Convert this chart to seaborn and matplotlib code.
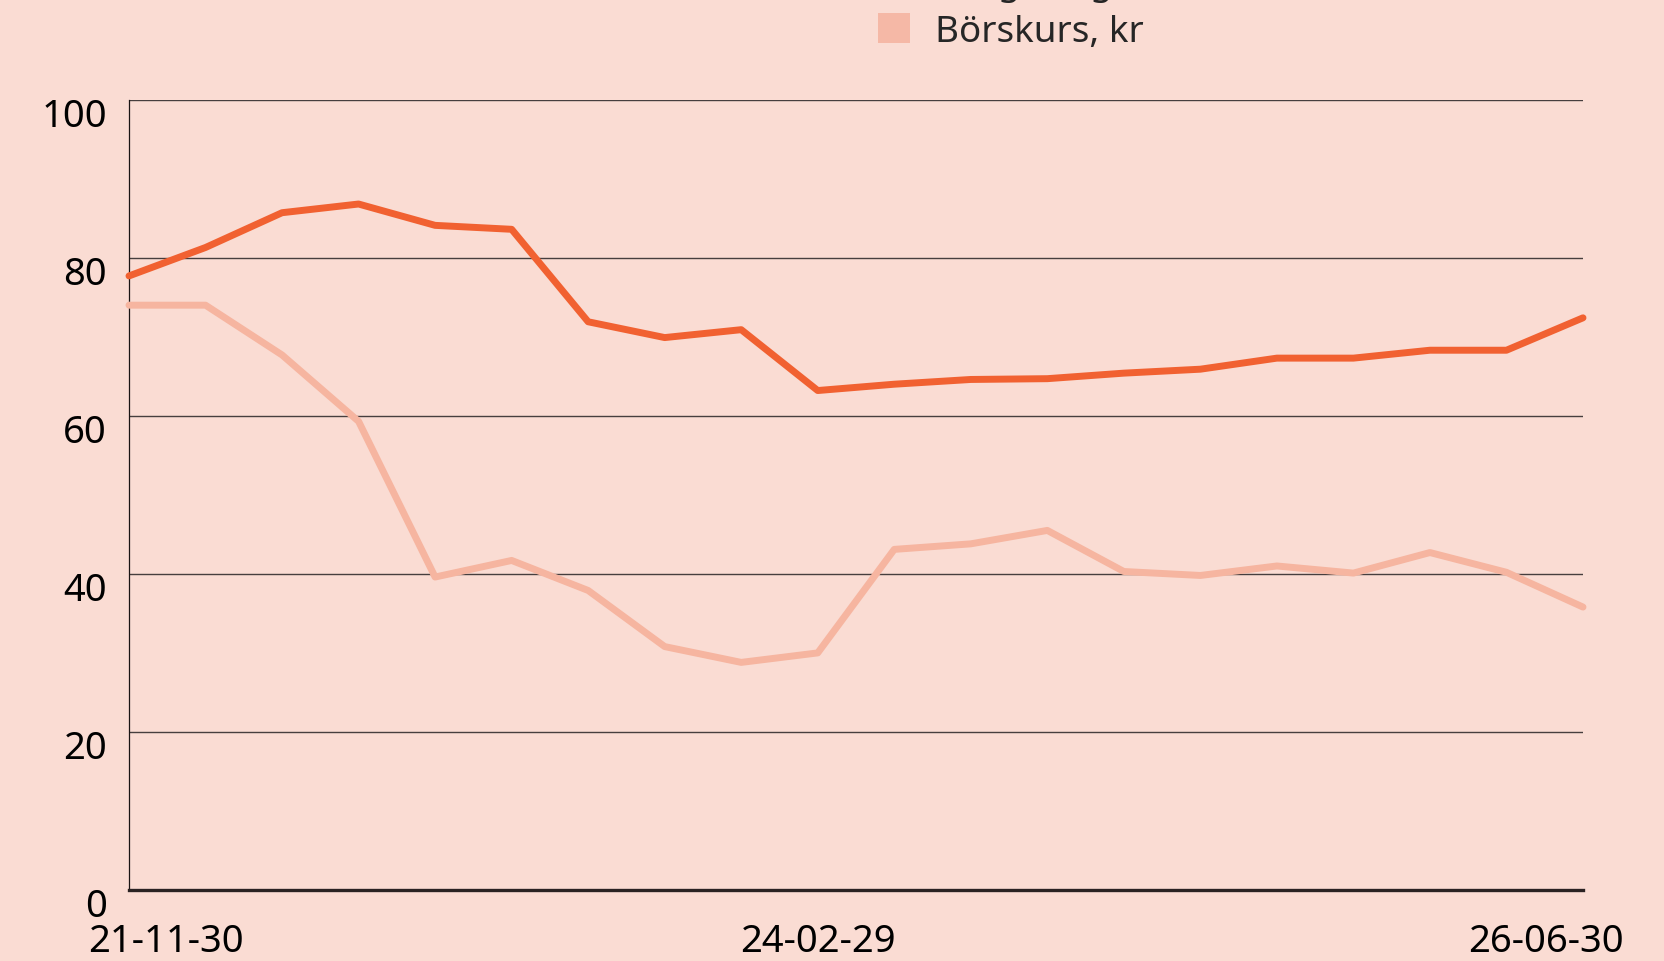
import matplotlib
matplotlib.use("Agg")
import matplotlib.pyplot as plt
import matplotlib.transforms as mtransforms
from matplotlib.patches import Patch
import seaborn as sns
import pandas as pd

# Reporting dates
dates = [
    "21-11-30", "22-02-28", "22-05-31", "22-08-31", "22-11-30",
    "23-02-28", "23-05-31", "23-08-31", "23-11-30", "24-02-29",
    "24-05-31", "24-08-31", "24-11-30", "25-03-31", "25-06-30",
    "25-09-30", "25-12-31", "26-03-31", "26-04-30", "26-06-30",
]

series_names = ["Långsiktigt substansvärde, kr", "Börskurs, kr"]

substansvarde = [77.7, 81.3, 85.7, 86.8, 84.1, 83.6, 71.9, 69.9, 70.9, 63.2,
                 64.0, 64.6, 64.7, 65.4, 65.9, 67.3, 67.3, 68.3, 68.3, 72.4]
borskurs = [74.0, 74.0, 67.7, 59.3, 39.6, 41.7, 37.9, 30.8, 28.8, 30.0,
            43.1, 43.8, 45.5, 40.3, 39.8, 41.0, 40.1, 42.7, 40.2, 35.8]

y_ticks = [0, 20, 40, 60, 80, 100]
x_tick_idx = [0, 9, 19]

bg = "#FADCD3"
colors = {series_names[0]: "#F16131", series_names[1]: "#F6B5A0"}
legend_colors = ["#F16131", "#F5B8A6"]

sns.set_theme(style="white", rc={"axes.facecolor": bg, "figure.facecolor": bg})
plt.rcParams["font.family"] = ["Noto Sans", "DejaVu Sans"]

n = len(dates)
df = pd.DataFrame({
    "idx": list(range(n)) * 2,
    "value": substansvarde + borskurs,
    "serie": [series_names[0]] * n + [series_names[1]] * n,
})

fig = plt.figure(figsize=(16.65, 9.62), dpi=100)
ax = fig.add_axes([129 / 1665, 1 - 891 / 962, (1583 - 129) / 1665, (891 - 100.7) / 962])

sns.lineplot(data=df, x="idx", y="value", hue="serie", palette=colors,
             hue_order=series_names[::-1], linewidth=5.0, legend=False, ax=ax)
for line in ax.lines:
    line.set_clip_on(False)
    line.set_solid_capstyle("round")
    line.set_zorder(3)

ax.set_xlim(0, n - 1)
ax.set_ylim(0, 100)
ax.set_yticks(y_ticks)
ax.set_yticklabels([str(v) for v in y_ticks])
ax.set_xticks(x_tick_idx)
ax.set_xticklabels([dates[i] for i in x_tick_idx])
ax.set_xlabel("")
ax.set_ylabel("")

ax.set_axisbelow(True)
ax.yaxis.grid(True, color="#463e3e", linewidth=1.0)
ax.xaxis.grid(False)

for side in ["top", "right"]:
    ax.spines[side].set_visible(False)
ax.spines["left"].set_color("#1a1414")
ax.spines["left"].set_linewidth(0.9)
ax.spines["bottom"].set_color("#2a2222")
ax.spines["bottom"].set_linewidth(2.4)

ax.tick_params(axis="y", length=0, pad=16, labelsize=27.5, labelcolor="black")
ax.tick_params(axis="x", length=0, pad=23, labelsize=27.5, labelcolor="black")

# nudge tick labels
for lab in ax.get_yticklabels():
    lab.set_transform(lab.get_transform() +
                      mtransforms.ScaledTranslation(0, -0.12, fig.dpi_scale_trans))
xl = ax.get_xticklabels()
xl[0].set_transform(xl[0].get_transform() +
                    mtransforms.ScaledTranslation(0.365, 0, fig.dpi_scale_trans))
xl[-1].set_transform(xl[-1].get_transform() +
                     mtransforms.ScaledTranslation(-0.37, 0, fig.dpi_scale_trans))

handles = [Patch(facecolor=c, edgecolor="none") for c in legend_colors]
fig.legend(handles, series_names, loc="lower left",
           bbox_to_anchor=(878 / 1665, 1 - 51 / 962), bbox_transform=fig.transFigure,
           frameon=False, borderpad=0, borderaxespad=0, fontsize=26.5,
           handlelength=0.87, handleheight=0.87, handletextpad=0.68,
           labelspacing=0.32)

fig.savefig("out.png", dpi=100, facecolor=bg)
